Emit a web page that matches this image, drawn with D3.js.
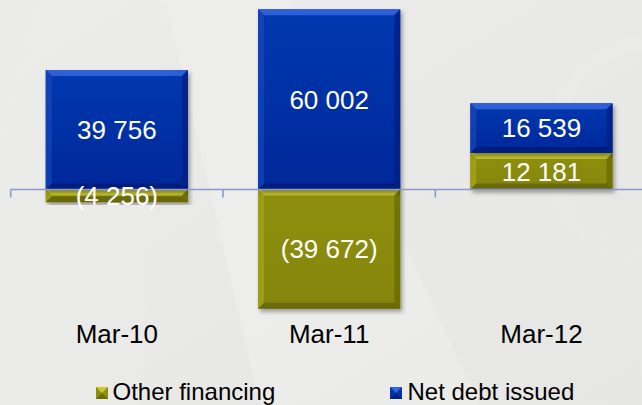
<!DOCTYPE html>
<html>
<head>
<meta charset="utf-8">
<script src="https://cdn.jsdelivr.net/npm/d3@7"></script>
<style>
  html, body { margin: 0; padding: 0; background: #eaeae8; }
  svg { display: block; }
  text { font-family: "Liberation Sans", Arial, sans-serif; }
</style>
</head>
<body>
<svg id="chart" width="642" height="405"></svg>
<script>
// ---- data ----
const categories = ["Mar-10", "Mar-11", "Mar-12"];
const seriesNames = ["Other financing", "Net debt issued"];
const otherFinancing = [-4256, -39672, 12181];
const netDebtIssued = [39756, 60002, 16539];

// ---- setup ----
const W = 642, H = 405;
const svg = d3.select("#chart");
const defs = svg.append("defs");

// background
const bg = defs.append("linearGradient").attr("id", "bg").attr("x1", 0).attr("y1", 0).attr("x2", 1).attr("y2", 1);
bg.append("stop").attr("offset", "0%").attr("stop-color", "#ebebe9");
bg.append("stop").attr("offset", "50%").attr("stop-color", "#e9e9e7");
bg.append("stop").attr("offset", "100%").attr("stop-color", "#e6e6e4");
svg.append("rect").attr("width", W).attr("height", H).attr("fill", "url(#bg)");
// subtle light diagonal sheen
svg.append("path").attr("d", "M165,0 L290,0 L480,405 L260,405 Z").attr("fill", "#ffffff").attr("opacity", 0.18);
svg.append("path").attr("d", "M0,140 L40,0 L165,0 L140,405 L0,405 Z").attr("fill", "#ffffff").attr("opacity", 0.08);
svg.append("circle").attr("cx", 660).attr("cy", 150).attr("r", 110).attr("fill", "none").attr("stroke", "#ffffff").attr("stroke-width", 14).attr("opacity", 0.08);

// filter for drop shadow
const f = defs.append("filter").attr("id", "shadow").attr("x", "-10%").attr("y", "-10%").attr("width", "130%").attr("height", "130%");
f.append("feDropShadow").attr("dx", 2).attr("dy", 3).attr("stdDeviation", 2.2).attr("flood-color", "#000").attr("flood-opacity", 0.35);

const colors = {
  "Other financing": { base: "#8e8e0a", top: "#8f8f0c", bottom: "#85850a", light: "#c9c935", left: "#a3a318", dark: "#5e5e05", right: "#6a6a06" },
  "Net debt issued": { base: "#0433a8", top: "#0638b0", bottom: "#02289a", light: "#3464dc", left: "#1543b8", dark: "#001a70", right: "#001f80" }
};
Object.entries(colors).forEach(([k, c], i) => {
  const g = defs.append("linearGradient").attr("id", "g" + i).attr("x1", 0).attr("y1", 0).attr("x2", 0).attr("y2", 1);
  g.append("stop").attr("offset", "0%").attr("stop-color", c.top);
  g.append("stop").attr("offset", "100%").attr("stop-color", c.bottom);
  c.grad = "url(#g" + i + ")";
});

// scales
const x = d3.scaleBand().domain(categories).range([10.7, 647.6]).paddingInner(0.33).paddingOuter(0.165);
const y = d3.scaleLinear().domain([-60000, 60000]).range([369.7, 9.3]);

// stack
const rows = categories.map((c, i) => ({ cat: c, "Other financing": otherFinancing[i], "Net debt issued": netDebtIssued[i] }));
const stack = d3.stack().keys(seriesNames).offset(d3.stackOffsetDiverging);
const stacked = stack(rows);

const loc = d3.formatLocale({ decimal: ".", thousands: " ", grouping: [3], currency: ["", ""] });
const fmt = loc.format(",d");
const label = v => v < 0 ? "(" + fmt(-v) + ")" : fmt(v);

const barsG = svg.append("g");
const B = 6; // bevel size
stacked.forEach(series => {
  const c = colors[series.key];
  series.forEach(d => {
    const x0 = x(d.data.cat), x1 = x0 + x.bandwidth();
    const yt = y(Math.max(d[0], d[1])), yb = y(Math.min(d[0], d[1]));
    const g = barsG.append("g").attr("filter", "url(#shadow)");
    g.append("rect").attr("x", x0).attr("y", yt).attr("width", x1 - x0).attr("height", yb - yt).attr("fill", c.grad);
    const b = Math.min(B, (yb - yt) / 2);
    g.append("path").attr("d", `M${x0},${yt}L${x1},${yt}L${x1 - b},${yt + b}L${x0 + b},${yt + b}Z`).attr("fill", c.light).attr("opacity", 0.9);
    g.append("path").attr("d", `M${x0},${yt}L${x0 + b},${yt + b}L${x0 + b},${yb - b}L${x0},${yb}Z`).attr("fill", c.left).attr("opacity", 0.8);
    g.append("path").attr("d", `M${x0},${yb}L${x0 + b},${yb - b}L${x1 - b},${yb - b}L${x1},${yb}Z`).attr("fill", c.dark).attr("opacity", 0.7);
    g.append("path").attr("d", `M${x1},${yt}L${x1 - b},${yt + b}L${x1 - b},${yb - b}L${x1},${yb}Z`).attr("fill", c.right).attr("opacity", 0.75);
  });
});

// axis line and ticks
const y0 = y(0);
const axisG = svg.append("g");
axisG.append("line").attr("x1", x.range()[0]).attr("x2", W).attr("y1", y0).attr("y2", y0)
  .attr("stroke", "#8c9acb").attr("stroke-width", 1.6);
const tickXs = categories.map(c => x(c) - x.step() * x.paddingInner() / 2).concat([x.range()[1]]);
axisG.selectAll("line.tick").data(tickXs).join("line").attr("class", "tick")
  .attr("x1", d => d).attr("x2", d => d).attr("y1", y0).attr("y2", y0 + 8)
  .attr("stroke", "#8c9acb").attr("stroke-width", 1.6);

// value labels
stacked.forEach(series => {
  series.forEach(d => {
    const v = d.data[series.key];
    svg.append("text")
      .attr("x", x(d.data.cat) + x.bandwidth() / 2)
      .attr("y", (y(d[0]) + y(d[1])) / 2)
      .attr("dy", "0.36em")
      .attr("text-anchor", "middle")
      .attr("fill", "#ffffff")
      .attr("font-size", 26)
      .text(label(v));
  });
});

// category labels
svg.append("g").selectAll("text").data(categories).join("text")
  .attr("x", d => x(d) + x.bandwidth() / 2)
  .attr("y", 343)
  .attr("text-anchor", "middle")
  .attr("fill", "#000")
  .attr("font-size", 26)
  .text(d => d);

// legend
const legendItems = [
  { name: "Other financing", mx: 96, tx: 112.5 },
  { name: "Net debt issued", mx: 390, tx: 407.5 }
];
const lg = svg.append("g");
legendItems.forEach(it => {
  const c = colors[it.name];
  const s = 12, ly = 387;
  lg.append("rect").attr("x", it.mx).attr("y", ly).attr("width", s).attr("height", s).attr("fill", c.base);
  lg.append("path").attr("d", `M${it.mx},${ly}L${it.mx + s},${ly}L${it.mx + s / 2},${ly + s / 2}Z`).attr("fill", c.light);
  lg.append("path").attr("d", `M${it.mx},${ly + s}L${it.mx + s},${ly + s}L${it.mx + s / 2},${ly + s / 2}Z`).attr("fill", c.dark).attr("opacity", 0.7);
  lg.append("text").attr("x", it.tx).attr("y", 400).attr("font-size", 24).attr("fill", "#000").text(it.name);
});
</script>
</body>
</html>
